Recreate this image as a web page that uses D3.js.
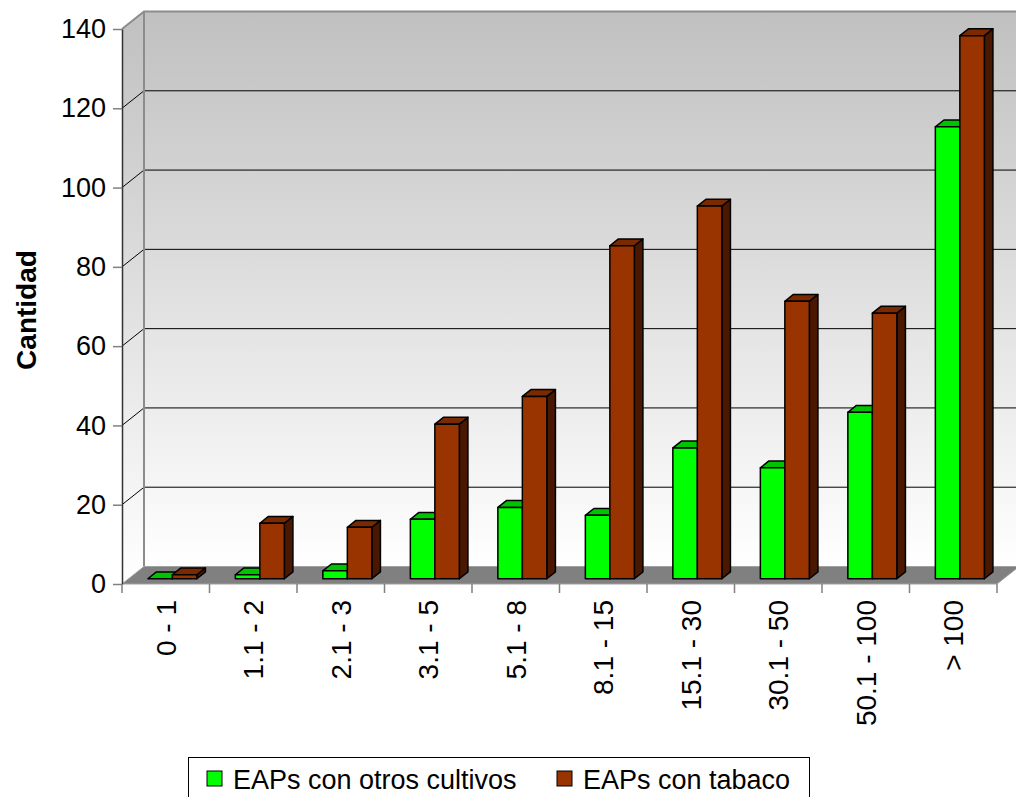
<!DOCTYPE html>
<html>
<head>
<meta charset="utf-8">
<script src="https://cdn.jsdelivr.net/npm/d3@7"></script>
<style>
  body { margin: 0; background: #fff; }
  text { font-family: "Liberation Sans", Arial, sans-serif; fill: #000; }
</style>
</head>
<body>
<div id="chart"></div>
<script>
const categories = ['0 - 1','1.1 - 2','2.1 - 3','3.1 - 5','5.1 - 8','8.1 - 15','15.1 - 30','30.1 - 50','50.1 - 100','> 100'];
const seriesNames = ['EAPs con otros cultivos','EAPs con tabaco'];
const otrosCultivos = [0, 1, 2, 15, 18, 16, 33, 28, 42, 114];
const tabaco = [1, 14, 13, 39, 46, 84, 94, 70, 67, 137];
const yTicks = [0, 20, 40, 60, 80, 100, 120, 140];

const W = 1016, H = 797;
const plotLeft = 122, plotRight = 997, plotBottom = 584, plotTop = 29;
const DX = 22, DY = -17.5;          // depth of the floor / walls
const f0 = 0.3, f1 = 0.69;          // bar depth placement

const colors = [
  {front: '#00ff00', top: '#00c400', side: '#009900'},
  {front: '#993300', top: '#7a2900', side: '#4a1800'}
];

const svg = d3.select('#chart').append('svg').attr('width', W).attr('height', H);

const x = d3.scaleBand().domain(categories).range([plotLeft, plotRight]);
const xSub = d3.scaleBand().domain(seriesNames).range([0, x.bandwidth()]).paddingOuter(0.786);
const y = d3.scaleLinear().domain([0, 140]).range([plotBottom, plotTop]);

const defs = svg.append('defs');
const grad = defs.append('linearGradient').attr('id', 'wall')
  .attr('x1', 0).attr('y1', 0).attr('x2', 0).attr('y2', 1);
grad.append('stop').attr('offset', '0%').attr('stop-color', '#c0c0c0');
grad.append('stop').attr('offset', '100%').attr('stop-color', '#ffffff');

const bx = plotLeft + DX;
const by = d3.scaleLinear().domain([0, 140]).range([plotBottom + DY, plotTop + DY]);
const pts = a => a.map(p => p.join(',')).join(' ');

// back wall
svg.append('rect').attr('x', bx).attr('y', by(140)).attr('width', plotRight + DX - bx).attr('height', by(0) - by(140))
  .attr('fill', 'url(#wall)');
// side wall
svg.append('polygon').attr('points', pts([[plotLeft, y(140)], [bx, by(140)], [bx, by(0)], [plotLeft, y(0)]]))
  .attr('fill', 'url(#wall)');

// gridlines
const grid = svg.append('g');
yTicks.filter(v => v > 0 && v < 140).forEach(v => {
  grid.append('line').attr('x1', plotLeft).attr('y1', y(v)).attr('x2', bx).attr('y2', by(v))
    .attr('stroke', '#000').attr('stroke-width', 1);
  grid.append('line').attr('x1', bx).attr('y1', by(v)).attr('x2', plotRight + DX).attr('y2', by(v))
    .attr('stroke', '#000').attr('stroke-width', 1);
});

// wall borders
svg.append('polyline').attr('points', pts([[plotLeft, y(140)], [bx, by(140)], [plotRight + DX, by(140)]]))
  .attr('fill', 'none').attr('stroke', '#8c8c8c').attr('stroke-width', 2);
svg.append('line').attr('x1', bx).attr('y1', by(140)).attr('x2', bx).attr('y2', by(0))
  .attr('stroke', '#8c8c8c').attr('stroke-width', 2);

// floor
svg.append('polygon').attr('points', pts([[plotLeft, y(0)], [plotRight, y(0)], [plotRight + DX, by(0)], [bx, by(0)]]))
  .attr('fill', '#808080').attr('stroke', '#a0a0a0').attr('stroke-width', 1);

// bars
const bars = svg.append('g');
const w = xSub.bandwidth();
const dd = (f1 - f0) * DX, dz = (f1 - f0) * DY;
categories.forEach((c, i) => {
  [otrosCultivos[i], tabaco[i]].forEach((v, s) => {
    const x0 = x(c) + xSub(seriesNames[s]) + f0 * DX;
    const yb = y(0) + f0 * DY, yt = y(v) + f0 * DY;
    const col = colors[s];
    const g = bars.append('g').attr('stroke', '#000').attr('stroke-width', 1.5).attr('stroke-linejoin', 'round');
    g.append('polygon').attr('points', pts([[x0 + w, yt], [x0 + w + dd, yt + dz], [x0 + w + dd, yb + dz], [x0 + w, yb]]))
      .attr('fill', col.side);
    g.append('polygon').attr('points', pts([[x0, yt], [x0 + dd, yt + dz], [x0 + w + dd, yt + dz], [x0 + w, yt]]))
      .attr('fill', col.top);
    if (v > 0) g.append('rect').attr('x', x0).attr('y', yt).attr('width', w).attr('height', yb - yt)
      .attr('fill', col.front);
  });
});

// y axis
const yAxis = svg.append('g').attr('transform', `translate(${plotLeft},0)`)
  .call(d3.axisLeft(y).tickValues(yTicks).tickSize(9).tickSizeOuter(0).tickPadding(7));
yAxis.select('.domain').attr('stroke', '#333').attr('stroke-width', 1.5);
yAxis.selectAll('.tick line').attr('stroke', '#808080').attr('stroke-width', 1.5);
yAxis.selectAll('.tick text').style('font-size', '27px').style('font-family', '"Liberation Sans", Arial, sans-serif').attr('fill', '#000');

// x axis: boundary ticks + rotated labels
const xt = svg.append('g');
categories.concat([null]).forEach(c => {
  const xx = c === null ? plotRight : x(c);
  xt.append('line').attr('x1', xx).attr('x2', xx).attr('y1', plotBottom).attr('y2', plotBottom + 9)
    .attr('stroke', '#808080').attr('stroke-width', 1.5);
});
categories.forEach(c => {
  const cx = x(c) + x.bandwidth() / 2 + 10;
  xt.append('text').attr('transform', `translate(${cx},600) rotate(-90)`)
    .attr('text-anchor', 'end').style('font-size', '28px').text(c);
});

// y title
svg.append('text').attr('transform', 'translate(36,310) rotate(-90)')
  .attr('text-anchor', 'middle').style('font-size', '28px').style('font-weight', 'bold').text('Cantidad');

// legend
const lg = svg.append('g');
lg.append('rect').attr('x', 188.5).attr('y', 757.5).attr('width', 621).attr('height', 60)
  .attr('fill', '#fff').attr('stroke', '#000').attr('stroke-width', 1);
const legendX = [207, 557];
seriesNames.forEach((n, s) => {
  lg.append('rect').attr('x', legendX[s]).attr('y', 771).attr('width', 15).attr('height', 15)
    .attr('fill', colors[s].front).attr('stroke', '#000').attr('stroke-width', 1);
  lg.append('text').attr('x', legendX[s] + 26).attr('y', 789).style('font-size', '27px').text(n);
});
</script>
</body>
</html>
